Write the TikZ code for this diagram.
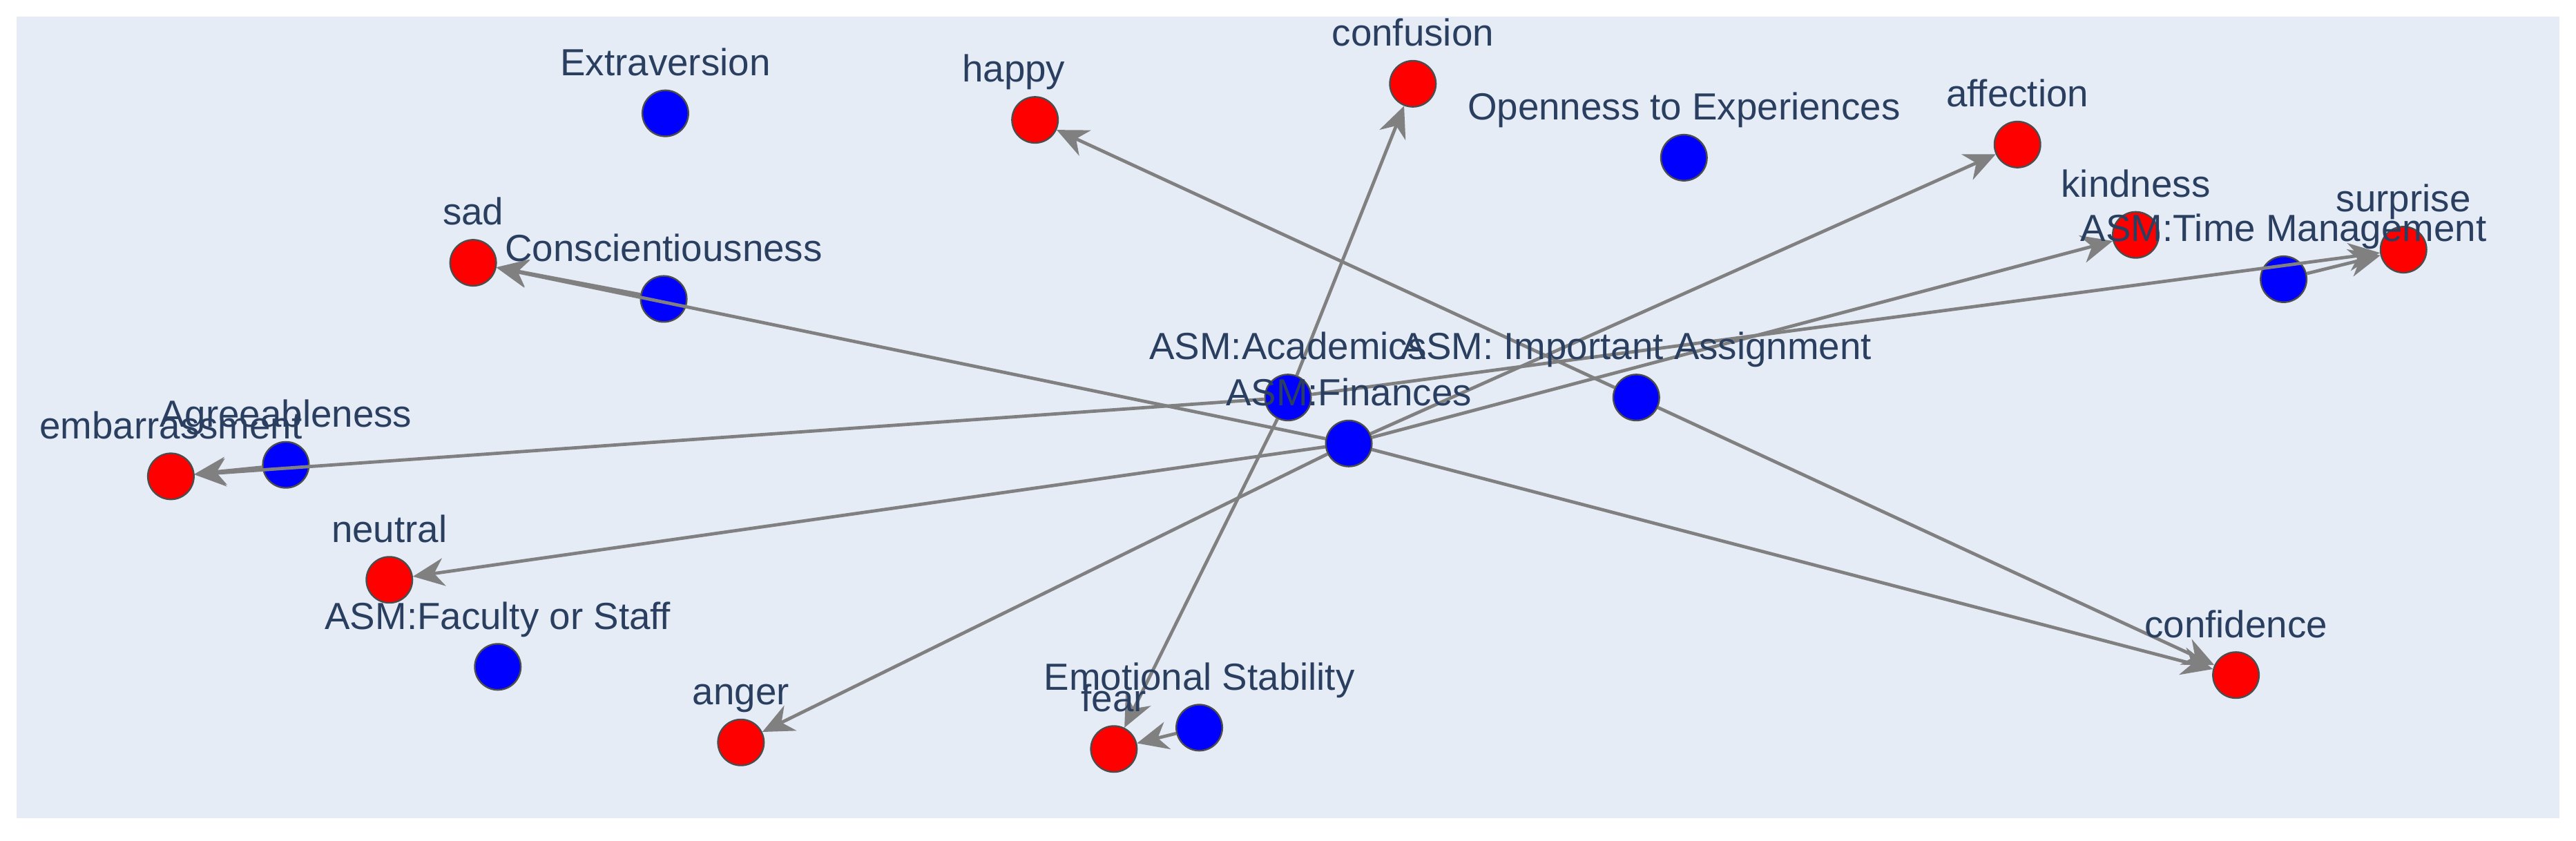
\documentclass[tikz,border=0pt]{standalone}
\usepackage{fontspec}
\setmainfont{Liberation Sans}
\usetikzlibrary{arrows.meta}
\definecolor{plotbg}{HTML}{E5ECF6}
\definecolor{labelcol}{HTML}{2A3F5F}
\tikzset{
  trait/.style={circle, draw=black!70, line width=1pt, fill=blue, minimum size=28pt, inner sep=0pt},
  emotion/.style={circle, draw=black!70, line width=1pt, fill=red, minimum size=28pt, inner sep=0pt},
  tag/.style={text=labelcol, font=\fontsize{23}{23}\selectfont, inner sep=0pt, anchor=base},
  link/.style={draw=gray, line width=2pt, -{Stealth[length=19pt,width=17pt,inset=6pt]}}
}
\begin{document}
\begin{tikzpicture}[x=1pt,y=-1pt]
\useasboundingbox (0,0) rectangle (1568,512);
\fill[plotbg] (10,10) rectangle (1558,498);
% traits and stressors
\node[trait] (extra) at (405,69) {};
\node[trait] (open) at (1025,96) {};
\node[trait] (consc) at (404,182) {};
\node[trait] (agree) at (174,283) {};
\node[trait] (faculty) at (303,406) {};
\node[trait] (stable) at (730,443) {};
\node[trait] (acad) at (784,242) {};
\node[trait] (fin) at (821,270) {};
\node[trait] (assign) at (996,242) {};
\node[trait] (timem) at (1390,170) {};
% emotions
\node[emotion] (happy) at (630,73) {};
\node[emotion] (confusion) at (860,51) {};
\node[emotion] (affection) at (1228,88) {};
\node[emotion] (kindness) at (1300,143) {};
\node[emotion] (surprise) at (1463,152) {};
\node[emotion] (sad) at (288,160) {};
\node[emotion] (embar) at (104,290) {};
\node[emotion] (neutral) at (237,353) {};
\node[emotion] (anger) at (451,452) {};
\node[emotion] (fear) at (678,456) {};
\node[emotion] (confid) at (1361,411) {};
% edges
\draw[link] (consc) -- (sad);
\draw[link] (agree) -- (embar);
\draw[link] (stable) -- (fear);
\draw[link] (timem) -- (surprise);
\draw[link] (acad) -- (confusion);
\draw[link] (acad) -- (fear);
\draw[link] (acad) -- (embar);
\draw[link] (acad) -- (surprise);
\draw[link] (assign) -- (happy);
\draw[link] (assign) -- (confid);
\draw[link] (fin) -- (sad);
\draw[link] (fin) -- (neutral);
\draw[link] (fin) -- (anger);
\draw[link] (fin) -- (affection);
\draw[link] (fin) -- (kindness);
\draw[link] (fin) -- (confid);
% labels
\node[tag] (l-extra) at (405,46) {Extraversion};
\node[tag] (l-open) at (1025,73) {Openness to Experiences};
\node[tag] (l-consc) at (404,159) {Conscientiousness};
\node[tag] (l-agree) at (174,260) {Agreeableness};
\node[tag] (l-faculty) at (303,383) {ASM:Faculty or Staff};
\node[tag] (l-stable) at (730,420) {Emotional Stability};
\node[tag] (l-acad) at (784,219) {ASM:Academics};
\node[tag] (l-fin) at (821,247) {ASM:Finances};
\node[tag] (l-assign) at (996,219) {ASM: Important Assignment};
\node[tag] (l-timem) at (1390,147) {ASM:Time Management};
\node[tag] (l-happy) at (617,50) {happy};
\node[tag] (l-confusion) at (860,28) {confusion};
\node[tag] (l-affection) at (1228,65) {affection};
\node[tag] (l-kindness) at (1300,120) {kindness};
\node[tag] (l-surprise) at (1463,129) {surprise};
\node[tag] (l-sad) at (288,137) {sad};
\node[tag] (l-embar) at (104,267) {embarrassment};
\node[tag] (l-neutral) at (237,330) {neutral};
\node[tag] (l-anger) at (451,429) {anger};
\node[tag] (l-fear) at (678,433) {fear};
\node[tag] (l-confid) at (1361,388) {confidence};
\end{tikzpicture}
\end{document}
